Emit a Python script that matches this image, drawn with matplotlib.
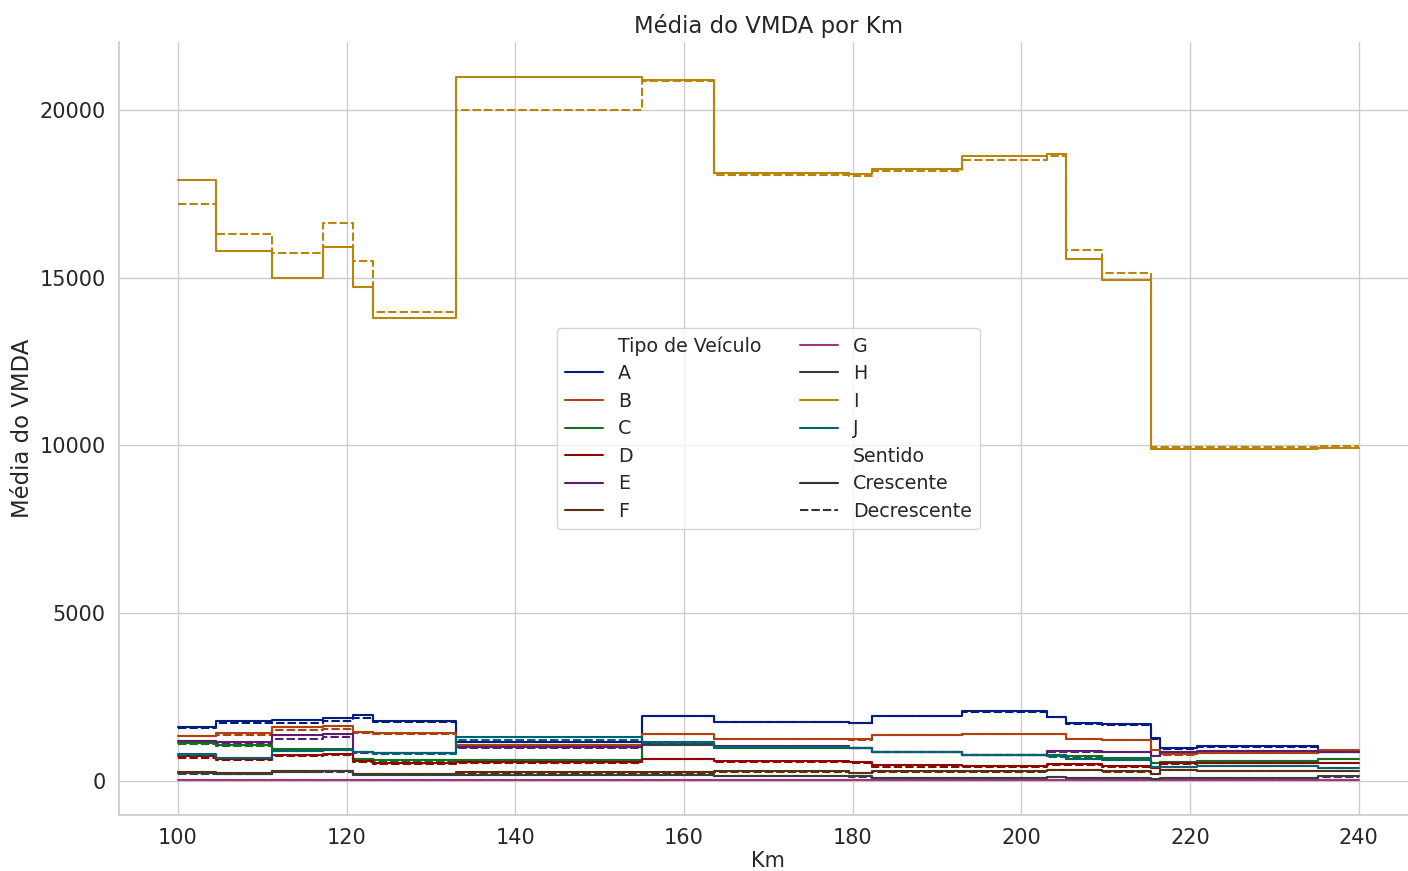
import pandas as pd
import matplotlib
matplotlib.use("Agg")
import matplotlib.pyplot as plt
import seaborn as sns

# Limites dos trechos (km) - cada valor vale do km indicado até o próximo
km_trechos = [100, 104.5, 111.2, 117.2, 120.7, 123.1, 133.0, 155.0, 163.5, 179.6,
              182.3, 193.0, 203.0, 205.3, 209.5, 215.4, 216.4, 220.8, 235.2, 240]

tipos = ["A", "B", "C", "D", "E", "F", "G", "H", "I", "J"]
sentidos = ["Crescente", "Decrescente"]

# VMDA médio por trecho (19 trechos) - sentido crescente
vmda_cres = {
    "A": [1590, 1790, 1810, 1860, 1960, 1770, 1140, 1940, 1750, 1720, 1940, 2070, 1910, 1720, 1690, 1260, 960, 1020, 860],
    "B": [1340, 1410, 1610, 1640, 1460, 1410, 1060, 1390, 1250, 1230, 1360, 1390, 1390, 1240, 1220, 910, 780, 820, 900],
    "C": [1110, 1060, 940, 940, 650, 600, 620, 1070, 970, 970, 860, 760, 760, 720, 670, 530, 560, 580, 650],
    "D": [720, 650, 750, 800, 570, 520, 550, 650, 580, 550, 470, 420, 480, 480, 420, 380, 510, 530, 530],
    "E": [1190, 1140, 1360, 1390, 840, 820, 990, 1100, 1020, 970, 860, 760, 870, 870, 850, 730, 860, 890, 860],
    "F": [250, 220, 300, 300, 200, 200, 250, 250, 280, 230, 280, 280, 330, 330, 280, 200, 330, 290, 290],
    "G": [25, 22, 24, 26, 20, 19, 21, 22, 20, 19, 18, 17, 19, 19, 18, 15, 18, 18, 20],
    "H": [220, 200, 270, 280, 170, 170, 170, 180, 150, 130, 80, 80, 110, 80, 80, 50, 80, 80, 130],
    "I": [17900, 15800, 15000, 15920, 14720, 13780, 20980, 20890, 18130, 18080, 18230, 18610, 18680, 15550, 14930, 9890, 9890, 9890, 9910],
    "J": [780, 680, 890, 910, 860, 810, 1290, 1140, 1000, 970, 860, 760, 720, 650, 610, 410, 410, 430, 380],
}

# VMDA médio por trecho - sentido decrescente
vmda_decr = {
    "A": [1560, 1720, 1730, 1790, 1860, 1740, 1150, 1920, 1740, 1710, 1930, 2050, 1900, 1690, 1660, 1230, 950, 1000, 840],
    "B": [1320, 1370, 1510, 1540, 1410, 1390, 1040, 1380, 1240, 1220, 1350, 1380, 1380, 1230, 1210, 900, 770, 810, 880],
    "C": [1080, 1030, 920, 920, 630, 580, 600, 1050, 960, 960, 850, 750, 750, 710, 660, 520, 550, 570, 640],
    "D": [680, 620, 720, 770, 540, 500, 530, 630, 560, 530, 400, 400, 450, 450, 400, 360, 490, 510, 520],
    "E": [1170, 1120, 1240, 1290, 830, 810, 970, 1090, 1000, 960, 850, 750, 860, 860, 840, 720, 850, 880, 850],
    "F": [230, 210, 280, 290, 190, 190, 240, 240, 260, 220, 270, 270, 320, 320, 270, 190, 320, 280, 280],
    "G": [22, 20, 22, 24, 18, 18, 20, 20, 19, 18, 17, 16, 18, 18, 17, 14, 17, 17, 19],
    "H": [210, 190, 260, 270, 160, 160, 160, 170, 140, 120, 70, 70, 100, 70, 70, 45, 70, 70, 120],
    "I": [17190, 16290, 15730, 16640, 15480, 13960, 20000, 20870, 18060, 18020, 18180, 18510, 18630, 15820, 15130, 9955, 9955, 9955, 9985],
    "J": [760, 660, 870, 900, 850, 800, 1220, 1120, 990, 960, 850, 750, 710, 640, 600, 400, 400, 420, 370],
}

# monta tabela longa (último valor repetido no km final para fechar o degrau)
linhas = []
for sentido, tabela in zip(sentidos, [vmda_cres, vmda_decr]):
    for tipo in tipos:
        valores = tabela[tipo] + [tabela[tipo][-1]]
        for km, v in zip(km_trechos, valores):
            linhas.append({"Km": km, "Média do VMDA": v,
                           "Tipo de Veículo": tipo, "Sentido": sentido})
df = pd.DataFrame(linhas)

sns.set_theme(style="whitegrid", font_scale=1.25)
plt.rcParams["font.family"] = ["DejaVu Sans"]

fig, ax = plt.subplots(figsize=(14.08, 8.71), dpi=100)
sns.lineplot(data=df, x="Km", y="Média do VMDA", hue="Tipo de Veículo",
             style="Sentido", palette="dark", drawstyle="steps-post", ax=ax)
sns.despine(ax=ax)
ax.set_xlim(93, 247)
ax.set_title("Média do VMDA por Km", fontsize=16.4)
ax.set_ylabel("Média do VMDA", fontsize=16.4)
ax.set_xlabel("Km", fontsize=15, labelpad=1.5)
ax.tick_params(labelsize=15)
ax.legend(loc="center", ncol=2, fontsize=13.7, labelspacing=0.45)

fig.subplots_adjust(left=0.0845, right=1.007, bottom=0.064, top=0.952)
fig.savefig("out.png", dpi=100)
plt.close(fig)
